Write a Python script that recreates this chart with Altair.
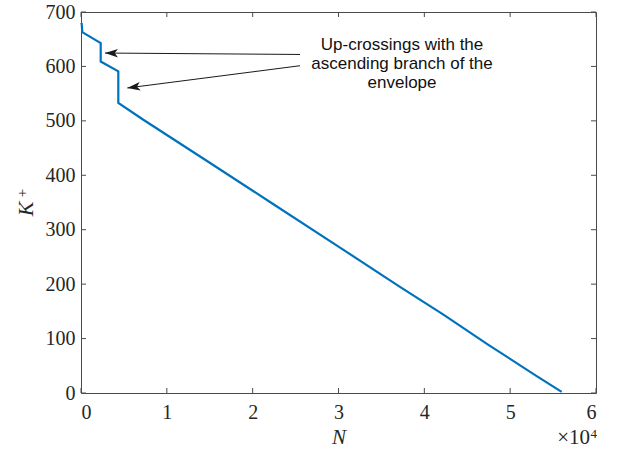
import altair as alt
import pandas as pd

# ---- data ----
N_vals = [0, 80, 150, 2295, 2295, 4347, 4347, 7260, 15000, 22020, 30000,
          37160, 42180, 47420, 53000, 56000]
K_vals = [680, 678.5, 663, 643, 609, 591, 533, 502, 423, 351, 269,
          195, 144.5, 89, 32, 2]

x_ticks = [0, 10000, 20000, 30000, 40000, 50000, 60000]
y_ticks = [0, 100, 200, 300, 400, 500, 600, 700]

note_lines = ["Up-crossings with the", "ascending branch of the", "envelope"]
note_N = [37400, 37400, 37400]
note_K = [629.8, 595.8, 561.0]

# arrows: tail -> head (data coords), head angle
arrow_tail_N = [25520, 25520]
arrow_tail_K = [622, 601.3]
arrow_head_N = [2796, 5394]
arrow_head_K = [624.6, 560.4]
arrow_angle = [0.5, 352.6]

W, H = 515, 381
AX = "#262626"
FRAME = "#4a4a4a"
SERIF = "Liberation Serif"

line_df = pd.DataFrame({"N": N_vals, "K": K_vals, "i": range(len(N_vals))})
xt_df = pd.DataFrame({"t": x_ticks})
yt_df = pd.DataFrame({"t": y_ticks})
note_df = pd.DataFrame({"txt": note_lines, "N": note_N, "K": note_K})
arr_df = pd.DataFrame({"N": arrow_tail_N, "K": arrow_tail_K,
                       "N2": arrow_head_N, "K2": arrow_head_K, "ang": arrow_angle})

xscale = alt.Scale(domain=[0, 60000], nice=False, zero=True)
yscale = alt.Scale(domain=[0, 700], nice=False, zero=True)

xaxis = alt.Axis(values=x_ticks, labelExpr="datum.value/10000", domain=False,
                 ticks=False, grid=False, labelFont=SERIF, labelFontSize=20,
                 labelColor=AX, labelPadding=9, title="N", titleFont=SERIF,
                 titleFontStyle="italic", titleFontWeight="normal",
                 titleFontSize=21, titleColor=AX, titlePadding=4)
yaxis = alt.Axis(values=y_ticks, domain=False, ticks=False, grid=False,
                 labelFont=SERIF, labelFontSize=20, labelColor=AX,
                 labelPadding=6, title=None)

line = alt.Chart(line_df).mark_line(color="#0072BD", strokeWidth=2.2).encode(
    x=alt.X("N:Q", scale=xscale, axis=xaxis),
    y=alt.Y("K:Q", scale=yscale, axis=yaxis),
    order="i:Q",
)

tick_style = dict(color=FRAME, strokeWidth=1)
bt = alt.Chart(xt_df).mark_rule(**tick_style).encode(
    x=alt.X("t:Q", scale=xscale, axis=xaxis), y=alt.value(H), y2=alt.value(H - 5))
tt = alt.Chart(xt_df).mark_rule(**tick_style).encode(
    x=alt.X("t:Q", scale=xscale, axis=xaxis), y=alt.value(0), y2=alt.value(5))
lt = alt.Chart(yt_df).mark_rule(**tick_style).encode(
    y=alt.Y("t:Q", scale=yscale, axis=yaxis), x=alt.value(0), x2=alt.value(5))
rt = alt.Chart(yt_df).mark_rule(**tick_style).encode(
    y=alt.Y("t:Q", scale=yscale, axis=yaxis), x=alt.value(W), x2=alt.value(W - 5))

shaft = alt.Chart(arr_df).mark_rule(color="#1a1a1a", strokeWidth=1).encode(
    x=alt.X("N:Q", scale=xscale, axis=xaxis), y=alt.Y("K:Q", scale=yscale, axis=yaxis),
    x2="N2:Q", y2="K2:Q")
head = alt.Chart(arr_df).mark_point(
    shape="M0,0 L2,-0.65 L1.5,0 L2,0.65 Z", filled=True, color="#1a1a1a",
    size=169, opacity=1, strokeWidth=0).encode(
    x=alt.X("N2:Q", scale=xscale, axis=xaxis), y=alt.Y("K2:Q", scale=yscale, axis=yaxis),
    angle=alt.Angle("ang:Q", scale=None))

notes = alt.Chart(note_df).mark_text(
    font="Liberation Sans", fontSize=17, color="#111111", align="center",
    baseline="alphabetic").encode(
    x=alt.X("N:Q", scale=xscale, axis=xaxis), y=alt.Y("K:Q", scale=yscale, axis=yaxis),
    text="txt:N")

one = pd.DataFrame({"txt": [""]})
expo_base = alt.Chart(one).mark_text(
    font=SERIF, fontSize=21, color=AX, align="right", baseline="alphabetic",
    text="×10").encode(x=alt.value(509), y=alt.value(432))
expo_sup = alt.Chart(one).mark_text(
    font=SERIF, fontSize=13, color=AX, align="left", baseline="alphabetic",
    text="4").encode(x=alt.value(509.5), y=alt.value(426))

ytitle_k = alt.Chart(one).mark_text(
    font=SERIF, fontSize=22, fontStyle="italic", color=AX, align="center",
    baseline="middle", angle=270, text="K").encode(x=alt.value(-55), y=alt.value(197))
ytitle_p = alt.Chart(one).mark_text(
    font=SERIF, fontSize=15, color=AX, align="center",
    baseline="middle", angle=270, text="+").encode(x=alt.value(-59), y=alt.value(181))

chart = alt.layer(line, bt, tt, lt, rt, shaft, head, notes,
                  expo_base, expo_sup, ytitle_k, ytitle_p).properties(
    width=W, height=H,
    autosize=alt.AutoSizeParams(type="none"),
    padding={"left": 81, "top": 12, "right": 24, "bottom": 61},
    background="white",
).configure_view(stroke=FRAME, strokeWidth=1)

chart.save("out.html", embed_options={"renderer": "svg", "actions": False})
